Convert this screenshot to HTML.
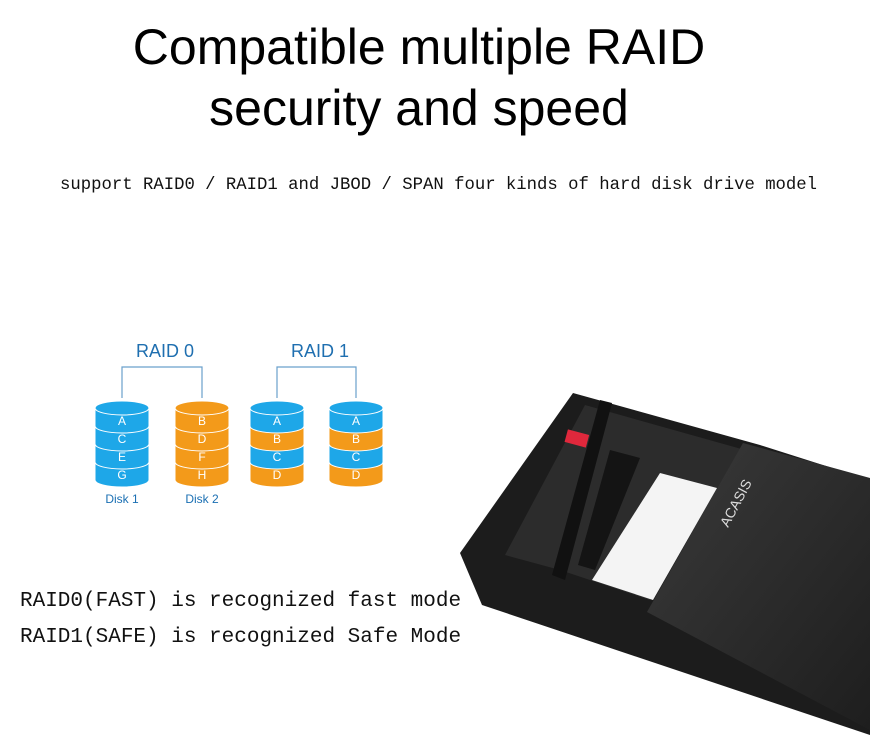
<!DOCTYPE html>
<html><head><meta charset="utf-8"><style>
body{margin:0;width:870px;height:752px;background:#fff;overflow:hidden;position:relative;font-family:"Liberation Sans",sans-serif}
.t{position:absolute;left:0;width:838px;text-align:center;font-size:50px;color:#000}
.m{position:absolute;font-family:"Liberation Mono",monospace;color:#111;white-space:nowrap}
</style></head><body>
<div class="t" style="top:18px">Compatible multiple RAID</div>
<div class="t" style="top:79px">security and speed</div>
<div class="m" style="left:60px;top:176px;font-size:17.3px">support RAID0 / RAID1 and JBOD / SPAN four kinds of hard disk drive model</div>
<svg width="870" height="752" style="position:absolute;left:0;top:0">
<defs>
<linearGradient id="cv" x1="0" y1="0" x2="1" y2="1"><stop offset="0" stop-color="#3a3a3a"/><stop offset="1" stop-color="#1e1e1e"/></linearGradient>
<linearGradient id="sh" x1="0" y1="0" x2="0" y2="1"><stop offset="0" stop-color="#ddd"/><stop offset="1" stop-color="#fff"/></linearGradient>
</defs>
<g font-family="Liberation Sans,sans-serif" text-anchor="middle">
<text x="165" y="357" font-size="18" fill="#1f6fb0">RAID 0</text>
<text x="320" y="357" font-size="18" fill="#1f6fb0">RAID 1</text>
<polyline points="122,398 122,367 202,367 202,398" fill="none" stroke="#6aa0cc" stroke-width="1.2"/>
<polyline points="277,398 277,367 356,367 356,398" fill="none" stroke="#6aa0cc" stroke-width="1.2"/>
</g>
<g id="disks" font-family="Liberation Sans,sans-serif" font-size="12" fill="#fff" text-anchor="middle"></g>
<text x="122" y="503" font-size="12" fill="#1a6fb3" text-anchor="middle" font-family="Liberation Sans,sans-serif">Disk 1</text>
<text x="202" y="503" font-size="12" fill="#1a6fb3" text-anchor="middle" font-family="Liberation Sans,sans-serif">Disk 2</text>
<!-- device -->
<polygon points="573,393 760,445 870,480 870,735 482,605 460,553" fill="#1c1c1c"/>
<polygon points="585,405 745,450 700,520 650,600 560,570 505,555" fill="#2c2c2c"/>
<polygon points="600,400 612,403 565,580 552,575" fill="#111"/>
<polygon points="610,450 640,458 595,570 578,565" fill="#141414"/>
<rect x="566" y="432" width="22" height="13" fill="#e0283c" transform="rotate(15 577 438)"/>
<polygon points="660,473 717,488 653,600 592,580" fill="#f4f4f4"/>
<polygon points="743,443 870,478 870,730 647,612" fill="url(#cv)"/>
<text x="0" y="0" font-size="14" fill="#ddd" font-family="Liberation Sans,sans-serif" transform="translate(728,528) rotate(-62)">ACASIS</text>
</svg>
<div class="m" style="left:20px;top:590px;font-size:21px">RAID0(FAST) is recognized fast mode</div>
<div class="m" style="left:20px;top:626px;font-size:21px">RAID1(SAFE) is recognized Safe Mode</div>
<script>
var B="#1ea7e8",O="#f39a1a",g=document.getElementById('disks'),s='';
function disk(cx,cols,labs){var w=27,top=408,h=18;
for(var i=3;i>=0;i--){var y=top+i*h;s+='<path d="M'+(cx-w)+' '+y+' v'+h+' a'+w+' 7 0 0 0 '+2*w+' 0 v-'+h+' z" fill="'+cols[i]+'" stroke="#fff" stroke-width="1"/>';}
s+='<ellipse cx="'+cx+'" cy="'+top+'" rx="'+w+'" ry="7" fill="'+cols[0]+'" stroke="#fff" stroke-width="1"/>';
for(var i=0;i<4;i++)s+='<text x="'+cx+'" y="'+(top+i*h+17)+'">'+labs[i]+'</text>';}
disk(122,[B,B,B,B],"ACEG");disk(202,[O,O,O,O],"BDFH");
disk(277,[B,O,B,O],"ABCD");disk(356,[B,O,B,O],"ABCD");
g.innerHTML=s;
</script>
</body></html>
